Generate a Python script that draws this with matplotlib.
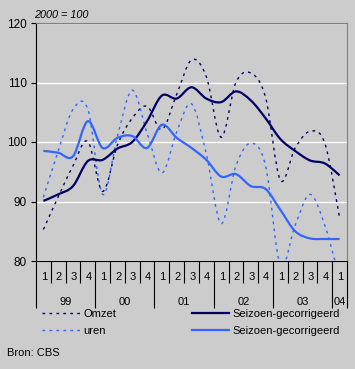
import numpy as np
import matplotlib.pyplot as plt
import matplotlib.transforms as mtransforms
from matplotlib.path import Path
from matplotlib.patches import PathPatch
from matplotlib.lines import Line2D

plt.rcParams['font.family'] = ['Liberation Sans', 'DejaVu Sans']

# Quarters 1999 Q1 .. 2004 Q1
years = ['99', '00', '01', '02', '03', '04']
year_quarters = [4, 4, 4, 4, 4, 1]
quarters = ['1', '2', '3', '4'] * 5 + ['1']

omzet = [85.3, 90.8, 96.0, 100.1, 91.7, 99.5, 104.0, 106.0, 102.1, 108.0, 113.8,
         111.0, 100.8, 110.0, 111.6, 107.5, 93.6, 99.0, 101.8, 99.8, 87.3]
omzet_sa = [90.1, 91.2, 92.6, 96.8, 97.0, 98.9, 100.0, 103.5, 107.8, 107.3, 109.2,
            107.3, 106.7, 108.5, 107.0, 104.0, 100.5, 98.5, 96.9, 96.4, 94.4]
uren = [90.7, 98.5, 105.5, 105.5, 91.2, 101.0, 108.7, 101.5, 94.8, 101.7, 106.4,
        98.0, 86.3, 96.0, 99.8, 96.0, 79.3, 86.0, 91.2, 86.0, 77.0]
uren_sa = [98.5, 98.2, 97.6, 103.5, 99.0, 100.7, 101.0, 99.0, 102.9, 100.7, 99.0,
           97.0, 94.2, 94.6, 92.6, 92.1, 88.6, 85.0, 83.8, 83.7, 83.7]

NAVY = '#000066'
BLUE = '#3366FF'
BG = '#CCCCCC'
W, H = 355, 369


def smooth_path(y):
    # smoothed line like a spreadsheet chart (Catmull-Rom as cubic Bezier)
    x = np.arange(len(y)) + 0.5
    pts = np.column_stack([x, y])
    ext = np.vstack([pts[0], pts, pts[-1]])
    verts = [pts[0]]
    codes = [Path.MOVETO]
    for i in range(len(pts) - 1):
        p0, p1, p2, p3 = ext[i], ext[i + 1], ext[i + 2], ext[i + 3]
        verts += [p1 + (p2 - p0) / 6, p2 - (p3 - p1) / 6, p2]
        codes += [Path.CURVE4] * 3
    return Path(verts, codes)


fig = plt.figure(figsize=(W / 100, H / 100), dpi=100, facecolor=BG)
ax = fig.add_axes([36 / W, 1 - 261 / H, 311 / W, 238 / H], facecolor=BG)

dotted = (0, (2, 3))
series = [
    (omzet, NAVY, 1.0, dotted),
    (uren, BLUE, 1.0, dotted),
    (omzet_sa, NAVY, 1.6, '-'),
    (uren_sa, BLUE, 1.6, '-'),
]
for vals, col, lw, ls in series:
    ax.add_patch(PathPatch(smooth_path(vals), fill=False, edgecolor=col,
                           lw=lw, linestyle=ls, zorder=3))

n = len(quarters)
ax.set_xlim(0, n)
ax.set_ylim(80, 120)
ax.set_yticks([80, 90, 100, 110, 120])
ax.yaxis.grid(True, color='white', lw=1)
ax.set_axisbelow(True)
ax.tick_params(axis='y', length=3.6, width=0.8, pad=3, labelsize=8.5)

bounds = np.cumsum([0] + year_quarters)
ax.set_xticks(bounds)
ax.set_xticklabels([])
ax.set_xticks([i for i in range(n + 1) if i not in bounds], minor=True)
ax.tick_params(axis='x', which='major', length=34, width=0.8)
ax.tick_params(axis='x', which='minor', length=16, width=0.8)

for sp in ['top', 'right']:
    ax.spines[sp].set_color('#808080')
for sp in ['left', 'bottom']:
    ax.spines[sp].set_color('black')

trans = mtransforms.blended_transform_factory(ax.transData, ax.transAxes)
for i, q in enumerate(quarters):
    ax.text(i + 0.55, -0.066, q, transform=trans, ha='center', va='center', fontsize=8)
for j, yr in enumerate(years):
    ax.text((bounds[j] + bounds[j + 1]) / 2, -0.174, yr, transform=trans,
            ha='center', va='center', fontsize=8)

fig.text(34 / W, 1 - 15 / H, '2000 = 100', style='italic', fontsize=7.8, va='center')
fig.text(7 / W, 1 - 353 / H, 'Bron: CBS', fontsize=8, va='center')

handles = [
    Line2D([], [], color=NAVY, lw=1.0, ls=dotted),
    Line2D([], [], color=BLUE, lw=1.0, ls=dotted),
    Line2D([], [], color=NAVY, lw=1.6),
    Line2D([], [], color=BLUE, lw=1.6),
]
labels = ['Omzet', 'uren', 'Seizoen-gecorrigeerd', 'Seizoen-gecorrigeerd']
fig.legend(handles, labels, ncol=2, loc='upper left',
           bbox_to_anchor=(42 / W, 1 - 309 / H), frameon=False, fontsize=8,
           handlelength=3.4, handletextpad=0.3, columnspacing=6.8,
           labelspacing=0.65, borderpad=0, borderaxespad=0)

fig.savefig('out.png', dpi=100, facecolor=BG)
